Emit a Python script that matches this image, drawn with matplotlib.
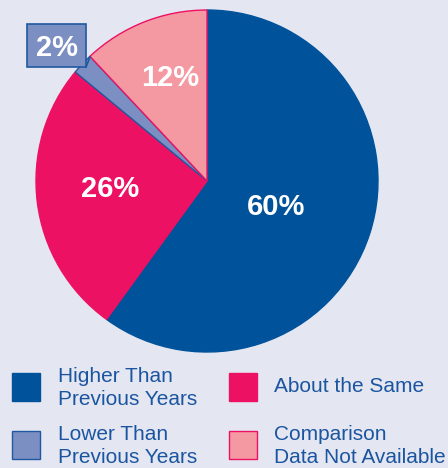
import matplotlib
matplotlib.use("Agg")
import matplotlib.pyplot as plt
from matplotlib.patches import Rectangle

# Survey shares
categories = ["Higher Than\nPrevious Years", "About the Same",
              "Lower Than\nPrevious Years", "Comparison\nData Not Available"]
values = [60, 26, 2, 12]
labels = ["60%", "26%", "2%", "12%"]

colors = ["#00529b", "#ec1163", "#7b8fc2", "#f498a2"]
edges = ["#00529b", "#ec1163", "#1f58a0", "#ec1163"]
bg = "#e4e7f1"
text_blue = "#1b55a0"

W, H = 448, 468
fig = plt.figure(figsize=(W / 100, H / 100), dpi=100)
fig.patch.set_facecolor(bg)
plt.rcParams["font.family"] = ["Liberation Sans", "DejaVu Sans"]

# Pie axes: centre (207, 181) px, radius 171 px
cx, cy, r = 207, 181, 171
ax = fig.add_axes([(cx - r) / W, (H - cy - r) / H, 2 * r / W, 2 * r / H])
ax.set_facecolor(bg)
wedges, _ = ax.pie(values, colors=colors, startangle=90, counterclock=False,
                   radius=1.0, wedgeprops=dict(linewidth=1.0))
for w, ec in zip(wedges, edges):
    w.set_edgecolor(ec)
ax.set_xlim(-1, 1)
ax.set_ylim(-1, 1)
ax.set_aspect("equal")
ax.axis("off")

# Percentage labels (pixel positions converted to axes data units)
def px_to_data(x, y):
    return (x - cx) / r, (cy - y) / r

label_pos = [(276, 207), (110, 189), None, (170, 78)]
for lab, pos in zip(labels, label_pos):
    if pos is None:
        continue
    x, y = px_to_data(*pos)
    ax.text(x, y, lab, color="white", fontsize=21, fontweight="bold",
            ha="center", va="center")

# Boxed label for the small slice
bx0, by0 = px_to_data(27, 67)
bx1, by1 = px_to_data(86, 24)
ax.add_patch(Rectangle((bx0, by0), bx1 - bx0, by1 - by0, facecolor=colors[2],
                       edgecolor="#1f58a0", linewidth=1.2, clip_on=False, zorder=5))
tx, ty = px_to_data(56.5, 48)
ax.text(tx, ty, labels[2], color="white", fontsize=21, fontweight="bold",
        ha="center", va="center", zorder=6)
lx0, ly0 = px_to_data(86, 67)
lx1, ly1 = px_to_data(90, 57)
ax.plot([lx0, lx1], [ly0, ly1], color="#1f58a0", lw=1.2, clip_on=False, zorder=4)

# Legend
sq = 28
legend_items = [
    (12, 373, 58, 388, 0),
    (229, 373, 274, 386, 1),
    (12, 431, 58, 446, 2),
    (229, 431, 274, 446, 3),
]
for sx, sy, tx, ty, i in legend_items:
    fig.patches.append(Rectangle((sx / W, (H - sy - sq) / H), sq / W, sq / H,
                                 transform=fig.transFigure, facecolor=colors[i],
                                 edgecolor=edges[i], linewidth=1.0))
    fig.text(tx / W, (H - ty) / H, categories[i], color=text_blue, fontsize=15,
             ha="left", va="center", linespacing=1.32)

fig.savefig("out.png", dpi=100, facecolor=bg)
